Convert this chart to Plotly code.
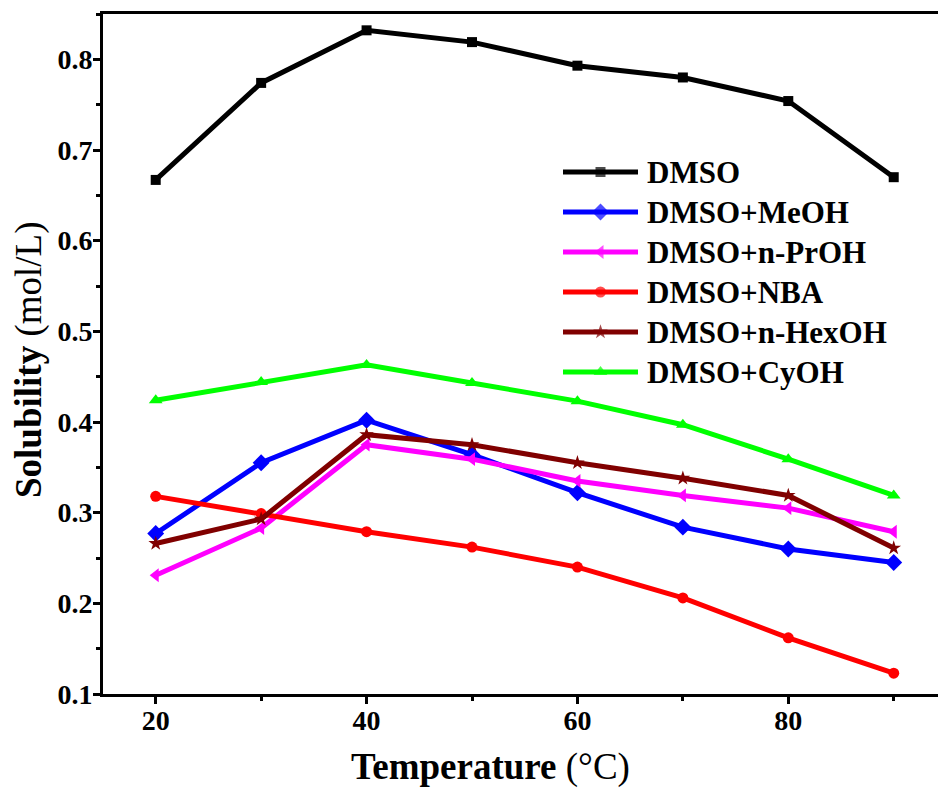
import plotly.graph_objects as go

# Temperatures (°C)
temperature = [20, 30, 40, 50, 60, 70, 80, 90]

# Solubility (mol/L) in each solvent system
dmso = [0.667, 0.774, 0.832, 0.819, 0.793, 0.780, 0.754, 0.670]
dmso_meoh = [0.277, 0.355, 0.402, 0.364, 0.322, 0.284, 0.260, 0.245]
dmso_nproh = [0.231, 0.283, 0.375, 0.359, 0.335, 0.319, 0.305, 0.279]
dmso_nba = [0.318, 0.299, 0.279, 0.262, 0.240, 0.206, 0.162, 0.123]
dmso_nhexoh = [0.266, 0.293, 0.386, 0.375, 0.355, 0.338, 0.319, 0.261]
dmso_cyoh = [0.424, 0.444, 0.463, 0.443, 0.423, 0.397, 0.359, 0.319]

series_names = ["DMSO", "DMSO+MeOH", "DMSO+n-PrOH", "DMSO+NBA",
                "DMSO+n-HexOH", "DMSO+CyOH"]
series_values = [dmso, dmso_meoh, dmso_nproh, dmso_nba, dmso_nhexoh, dmso_cyoh]
series_colors = ["#000000", "#0000FF", "#FF00FF", "#FF0000", "#800000", "#00FF00"]
series_symbols = ["square", "diamond", "triangle-left", "circle", "star", "triangle-up"]
series_sizes = [10, 13, 12, 11, 11, 12]

FONT = "Liberation Serif"
LINE_W = 5

# Plot-area geometry in pixels (used for the overlay axis that holds the key)
W, H = 938, 798
PL, PR, PT, PB = 103, 938, 14, 694


def px_to_paper_x(px):
    return (px - PL) / (PR - PL)


def px_to_paper_y(py):
    return (PB - py) / (PB - PT)


fig = go.Figure()
for name, vals, col, sym, sz in zip(series_names, series_values, series_colors,
                                    series_symbols, series_sizes):
    fig.add_trace(go.Scatter(
        x=temperature, y=vals, name=name, mode="lines+markers",
        line=dict(color=col, width=LINE_W),
        marker=dict(symbol=sym, size=sz, color=col, line=dict(width=0)),
        showlegend=False,
    ))

# Key: long line samples with a centred marker, drawn on a pixel-unit overlay axis
key_x0, key_x1, key_text_x = 563, 638, 645
key_top, key_step = 172, 40
annotations = []
for i, (name, col, sym, sz) in enumerate(zip(series_names, series_colors,
                                             series_symbols, series_sizes)):
    ky = key_top + i * key_step
    fig.add_trace(go.Scatter(
        x=[key_x0, (key_x0 + key_x1) / 2, key_x1], y=[ky, ky, ky],
        xaxis="x2", yaxis="y2", mode="lines+markers",
        line=dict(color=col, width=LINE_W),
        marker=dict(symbol=sym, size=[0, sz, 0], color=col, line=dict(width=0)),
        showlegend=False, hoverinfo="skip",
    ))
    annotations.append(dict(
        x=key_text_x, y=ky, xref="x2", yref="y2", xanchor="left", yanchor="middle",
        text=f"<b>{name}</b>", showarrow=False,
        font=dict(family=FONT, size=31, color="black"),
    ))

# Axis titles
annotations.append(dict(
    x=px_to_paper_x(490), y=px_to_paper_y(767), xref="paper", yref="paper",
    xanchor="center", yanchor="middle",
    text="<b>Temperature</b> (°C)", showarrow=False,
    font=dict(family=FONT, size=37, color="black"),
))
annotations.append(dict(
    x=px_to_paper_x(29), y=px_to_paper_y(360), xref="paper", yref="paper",
    xanchor="center", yanchor="middle",
    text="<b>Solubility</b> (mol/L)", showarrow=False, textangle=-90,
    font=dict(family=FONT, size=37, color="black"),
))

fig.update_layout(
    width=W, height=H,
    margin=dict(l=PL, r=W - PR, t=PT, b=H - PB),
    paper_bgcolor="white", plot_bgcolor="white",
    font=dict(family=FONT, color="black"),
    showlegend=False,
    annotations=annotations,
    xaxis2=dict(overlaying="x", range=[PL, PR], visible=False, fixedrange=True),
    yaxis2=dict(overlaying="y", range=[PB, PT], visible=False, fixedrange=True),
)

fig.update_layout(xaxis=dict(
    range=[15, 94.2],
    tickmode="linear", tick0=20, dtick=20,
    ticks="outside", ticklen=7, tickwidth=3, tickcolor="black",
    minor=dict(ticks="outside", ticklen=4, tickwidth=3, tickcolor="black",
               tick0=20, dtick=10),
    showline=True, linewidth=3, linecolor="black", mirror=True,
    showgrid=False, zeroline=False,
    tickprefix="<b>", ticksuffix="</b>",
    tickfont=dict(family=FONT, size=28, color="black"),
    ticklabelstandoff=-8,
))

fig.update_layout(yaxis=dict(
    range=[0.1, 0.85],
    tickmode="linear", tick0=0.1, dtick=0.1,
    ticks="outside", ticklen=7, tickwidth=3, tickcolor="black",
    minor=dict(ticks="outside", ticklen=4, tickwidth=3, tickcolor="black",
               tick0=0.1, dtick=0.05),
    showline=True, linewidth=3, linecolor="black", mirror=False,
    showgrid=False, zeroline=False,
    tickformat=".1f",
    tickprefix="<b>", ticksuffix="</b>",
    tickfont=dict(family=FONT, size=28, color="black"),
    ticklabelstandoff=-5,
))

fig.write_html("out.html")
